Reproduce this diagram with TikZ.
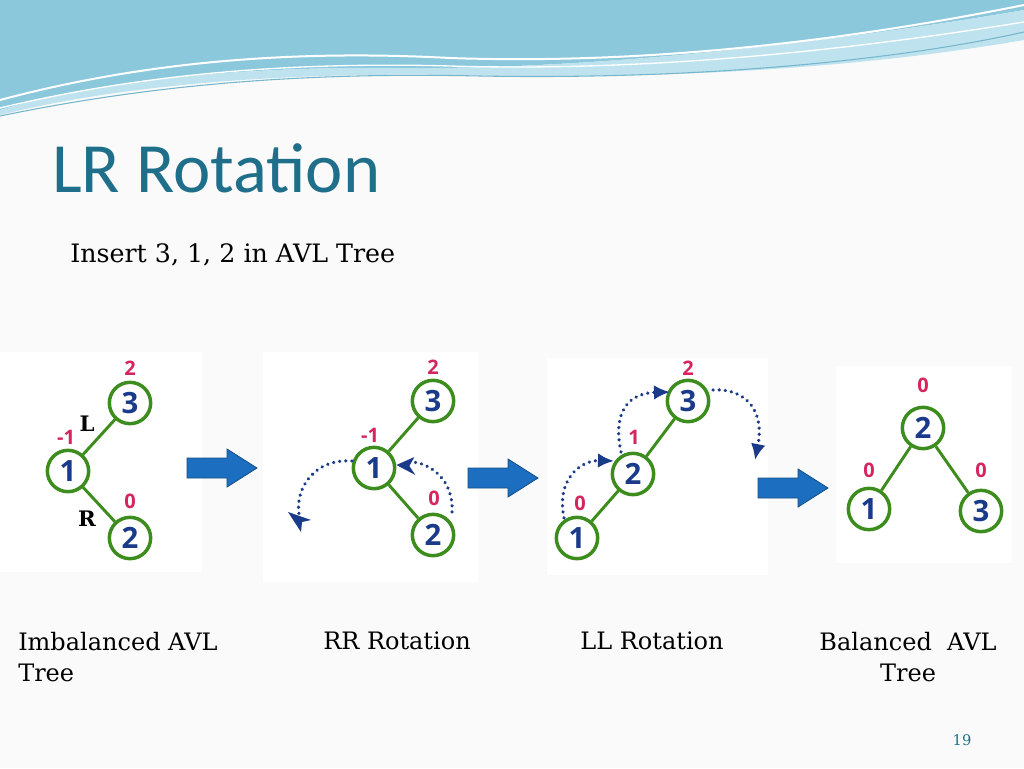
\documentclass[tikz,border=0pt]{standalone}
\usepackage{fontspec}
\setmainfont{DejaVu Serif}
\newfontfamily\titlefont{Carlito}
\newfontfamily\numfont{Open Sans}
\usetikzlibrary{arrows.meta}
\definecolor{teal1}{HTML}{1F6F8B}
\definecolor{gcirc}{HTML}{3C8C1E}
\definecolor{nblue}{HTML}{1A3A8A}
\definecolor{bfred}{HTML}{D6245E}
\definecolor{arrblue}{HTML}{1C6FC0}
\definecolor{wave1}{HTML}{8CC8DC}
\definecolor{wave2}{HTML}{BFE3EE}
\tikzset{
 tn/.style={circle,draw=gcirc,line width=2.6pt,fill=white,minimum size=31pt,inner sep=0pt,text=nblue,font=\numfont\bfseries\fontsize{22}{22}\selectfont},
 ed/.style={gcirc,line width=2.2pt},
 bf/.style={text=bfred,font=\numfont\bfseries\fontsize{15}{15}\selectfont},
 rot/.style={nblue,line width=2.6pt,dash pattern=on 0.1pt off 4.5pt,line cap=round},
 rth/.style={-{Latex[length=12pt,width=11pt]}},
 bigarr/.style={fill=arrblue,draw=arrblue!70!black,line width=0.6pt},
 panel/.style={fill=white,draw=none},
 captxt/.style={font=\fontsize{18}{23}\selectfont,align=left}
}
\newcommand{\bigarrow}[2]{\draw[bigarr] (#1-35,#2-10) -- (#1+5,#2-10) -- (#1+5,#2-19) -- (#1+35,#2) -- (#1+5,#2+19) -- (#1+5,#2+10) -- (#1-35,#2+10) -- cycle;}
\begin{document}
\begin{tikzpicture}[x=0.75pt,y=-0.75pt]
\useasboundingbox (0,0) rectangle (1024,768);
\fill[white!96!gray] (0,0) rectangle (1024,768);
% waves
\fill[wave1] (0,0) -- (1024,0) -- (1024,10) .. controls (850,40) and (600,70) .. (400,68) .. controls (250,66) and (100,80) .. (0,110) -- cycle;
\fill[wave2] (0,110) .. controls (100,80) and (250,66) .. (400,68) .. controls (600,70) and (850,40) .. (1024,10) -- (1024,40) .. controls (850,70) and (650,80) .. (450,75) .. controls (250,72) and (100,90) .. (0,115) -- cycle;
\draw[white,line width=1.5pt] (0,100) .. controls (150,60) and (300,50) .. (450,58) .. controls (650,65) and (850,40) .. (1024,5);
\draw[white,line width=1pt] (0,108) .. controls (150,72) and (300,62) .. (450,66) .. controls (650,72) and (850,50) .. (1024,22);
\draw[wave1!80!teal1,line width=0.8pt] (0,116) .. controls (150,85) and (300,72) .. (480,76) .. controls (700,80) and (900,60) .. (1024,32);
% title
\node[anchor=base west,inner sep=0,text=teal1,font=\titlefont\fontsize{53}{53}\selectfont] (title) at (52,192) {LR Rotation};
\node[anchor=base west,inner sep=0,font=\fontsize{19}{19}\selectfont] (sub) at (70,262) {Insert 3, 1, 2 in AVL Tree};
% panels
\fill[panel] (0,352) rectangle (202,572);
\fill[panel] (263,352) rectangle (478,582);
\fill[panel] (547,358) rectangle (768,575);
\fill[panel] (836,366) rectangle (1012,563);
% panel 1
\node[tn] (a3) at (130,403) {3};
\node[tn] (a1) at (68,471) {1};
\node[tn] (a2) at (130,538) {2};
\draw[ed] (a1) -- (a3); \draw[ed] (a1) -- (a2);
\node[bf] (ab3) at (130,368) {2};
\node[bf] (ab1) at (66,437) {-1};
\node[bf] (ab2) at (130,501) {0};
\node[font=\bfseries\fontsize{16}{16}\selectfont] (lL) at (87,424) {L};
\node[font=\bfseries\fontsize{16}{16}\selectfont] (lR) at (87,519) {R};
\bigarrow{222}{468}
% panel 2
\node[tn] (b3) at (433,401) {3};
\node[tn] (b1) at (374,468) {1};
\node[tn] (b2) at (433,535) {2};
\draw[ed] (b1) -- (b3); \draw[ed] (b1) -- (b2);
\node[bf] (bb3) at (433,367) {2};
\node[bf] (bb1) at (370,435) {-1};
\node[bf] (bb2) at (434,498) {0};
\coordinate (r1s) at (352,461);
\draw[rot] (r1s) .. controls (310,458) and (293,495) .. (300,518);
\fill[nblue] (288,512) -- (311,520) -- (302,522) -- (301,532) -- cycle;
\coordinate (r2s) at (452,512);
\draw[rot] (r2s) .. controls (454,480) and (430,463) .. (412,462);
\fill[nblue] (b1.east) ++(0,-3) -- ++(18,-8) -- ++(-5,9) -- ++(6,9) -- cycle;
\bigarrow{503}{478}
% panel 3
\node[tn] (c3) at (688,401) {3};
\node[tn] (c2) at (633,474) {2};
\node[tn] (c1) at (577,538) {1};
\draw[ed] (c1) -- (c2); \draw[ed] (c2) -- (c3);
\node[bf] (cb3) at (688,368) {2};
\node[bf] (cb2) at (634,437) {1};
\node[bf] (cb1) at (580,503) {0};
\coordinate (s1) at (564,518);
\draw[rot,rth] (s1) .. controls (556,480) and (580,460) .. (614,461);
\coordinate (s2) at (621,452);
\draw[rot,rth] (s2) .. controls (612,410) and (630,393) .. (670,392);
\coordinate (s3) at (713,390);
\draw[rot,rth] (s3) .. controls (745,388) and (765,410) .. (755,460);
\bigarrow{793}{488}
% panel 4
\node[tn] (d2) at (923,428) {2};
\node[tn] (d1) at (869,509) {1};
\node[tn] (d3) at (981,511) {3};
\draw[ed] (d2) -- (d1); \draw[ed] (d2) -- (d3);
\node[bf] (db2) at (923,385) {0};
\node[bf] (db1) at (869,470) {0};
\node[bf] (db3) at (981,470) {0};
% captions
\node[captxt,anchor=north west,inner sep=0] (c1t) at (18,632) {Imbalanced AVL\\Tree};
\node[captxt,anchor=north,inner sep=0] (c2t) at (397,632) {RR Rotation};
\node[captxt,anchor=north,inner sep=0] (c3t) at (652,632) {LL Rotation};
\node[captxt,anchor=north,align=center,inner sep=0] (c4t) at (908,632) {Balanced\ \ AVL\\Tree};
\node[text=teal1,font=\fontsize{11}{11}\selectfont] (pg) at (962,740) {19};
\end{tikzpicture}
\end{document}
